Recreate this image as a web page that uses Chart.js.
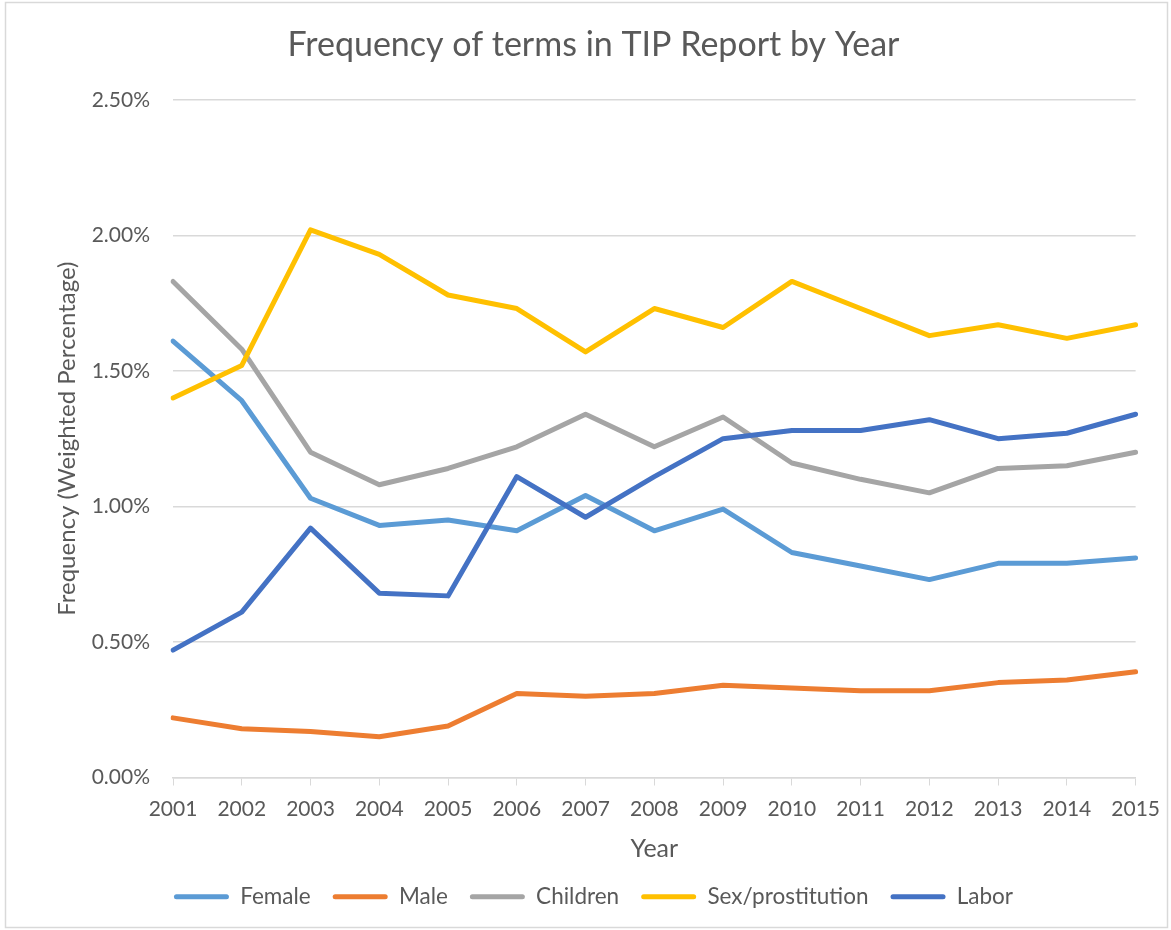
<!DOCTYPE html>
<html>
<head>
<meta charset="utf-8">
<title>Frequency of terms in TIP Report by Year</title>
<script src="https://cdn.jsdelivr.net/npm/chart.js@4/dist/chart.umd.min.js"></script>
<style>
  html, body { margin: 0; padding: 0; background: #fff; }
  #wrap { position: relative; width: 1171px; height: 930px; }
</style>
</head>
<body>
<div id="wrap"><canvas id="tipChart"></canvas></div>
<script>
// chart data (percent units)
const years = ['2001', '2002', '2003', '2004', '2005', '2006', '2007', '2008',
  '2009', '2010', '2011', '2012', '2013', '2014', '2015'];
const female = [1.61, 1.39, 1.03, 0.93, 0.95, 0.91, 1.04, 0.91, 0.99, 0.83, 0.78, 0.73, 0.79, 0.79, 0.81];
const male = [0.22, 0.18, 0.17, 0.15, 0.19, 0.31, 0.30, 0.31, 0.34, 0.33, 0.32, 0.32, 0.35, 0.36, 0.39];
const children = [1.83, 1.58, 1.20, 1.08, 1.14, 1.22, 1.34, 1.22, 1.33, 1.16, 1.10, 1.05, 1.14, 1.15, 1.20];
const sexProstitution = [1.40, 1.52, 2.02, 1.93, 1.78, 1.73, 1.57, 1.73, 1.66, 1.83, 1.73, 1.63, 1.67, 1.62, 1.67];
const labor = [0.47, 0.61, 0.92, 0.68, 0.67, 1.11, 0.96, 1.11, 1.25, 1.28, 1.28, 1.32, 1.25, 1.27, 1.34];
const yTicks = [0, 0.5, 1.0, 1.5, 2.0, 2.5];

document.addEventListener('DOMContentLoaded', function() {
  if (typeof Chart === 'undefined') {
    console.error('Chart.js library not loaded');
    return;
  }

  const FONT = 'Lato, "Noto Sans", sans-serif';
  const TEXT = '#595959';
  const GRID = '#d9d9d9';

  function series(label, data, color, order) {
    return {
      label: label,
      data: data,
      borderColor: color,
      backgroundColor: color,
      borderWidth: 5,
      borderJoinStyle: 'round',
      borderCapStyle: 'round',
      pointRadius: 0,
      pointHoverRadius: 0,
      tension: 0,
      fill: false,
      order: order
    };
  }

  // thin frame round the whole chart, like the Excel chart area
  const framePlugin = {
    id: 'frame',
    beforeDraw(chart) {
      const c = chart.ctx;
      c.save();
      c.fillStyle = '#ffffff';
      c.fillRect(0, 0, chart.width, chart.height);
      c.restore();
    },
    afterDraw(chart) {
      const c = chart.ctx;
      c.save();
      c.strokeStyle = GRID;
      c.lineWidth = 1.5;
      c.strokeRect(5.5, 2.5, chart.width - 9, chart.height - 5);
      c.restore();
    }
  };

  const config = {
    type: 'line',
    data: {
      labels: years,
      datasets: [
        series('Female', female, '#5B9BD5', 5),
        series('Male', male, '#ED7D31', 4),
        series('Children', children, '#A5A5A5', 3),
        series('Sex/prostitution', sexProstitution, '#FFC000', 2),
        series('Labor', labor, '#4472C4', 1)
      ]
    },
    options: {
      responsive: true,
      maintainAspectRatio: false,
      animation: false,
      layout: { padding: { left: 50, right: 34, top: 0, bottom: 12 } },
      scales: {
        x: {
          offset: false,
          afterFit(scale) { scale.height = 86; },
          grid: {
            display: true,
            drawOnChartArea: false,
            drawTicks: true,
            tickLength: 8,
            color: GRID
          },
          border: { display: true, color: GRID, width: 1.5 },
          ticks: {
            color: TEXT,
            padding: 11,
            maxRotation: 0,
            font: { family: FONT, size: 21 }
          },
          title: {
            display: true,
            text: 'Year',
            color: TEXT,
            padding: { top: 10, bottom: 0 },
            font: { family: FONT, size: 25 }
          }
        },
        y: {
          min: 0,
          max: 2.5,
          afterFit(scale) { scale.width = 123; },
          afterBuildTicks(scale) {
            scale.ticks = yTicks.map(v => ({ value: v }));
          },
          grid: { color: GRID, lineWidth: 1.5, drawTicks: false },
          border: { display: false },
          ticks: {
            color: TEXT,
            padding: 23,
            font: { family: FONT, size: 21 },
            callback: v => v.toFixed(2) + '%'
          },
          title: {
            display: true,
            text: 'Frequency (Weighted Percentage)',
            color: TEXT,
            padding: { top: 3, bottom: 0 },
            font: { family: FONT, size: 24 }
          }
        }
      },
      plugins: {
        title: {
          display: true,
          text: 'Frequency of terms in TIP Report by Year',
          color: TEXT,
          padding: { top: 25, bottom: 34 },
          font: { family: FONT, size: 34, weight: 'normal' }
        },
        legend: {
          position: 'bottom',
          labels: {
            color: TEXT,
            boxWidth: 55,
            boxHeight: 5,
            padding: 22,
            font: { family: FONT, size: 22.5 },
            generateLabels(chart) {
              return chart.data.datasets.map((ds, i) => ({
                text: ds.label,
                fillStyle: ds.borderColor,
                strokeStyle: ds.borderColor,
                lineWidth: 0,
                borderRadius: 2.5,
                datasetIndex: i,
                hidden: false,
                fontColor: TEXT
              }));
            },
            useBorderRadius: true,
            borderRadius: 2.5
          }
        },
        tooltip: { enabled: false }
      }
    },
    plugins: [framePlugin]
  };

  const ctx = document.getElementById('tipChart');
  if (ctx) {
    new Chart(ctx, config);
  }
});
</script>
</body>
</html>
